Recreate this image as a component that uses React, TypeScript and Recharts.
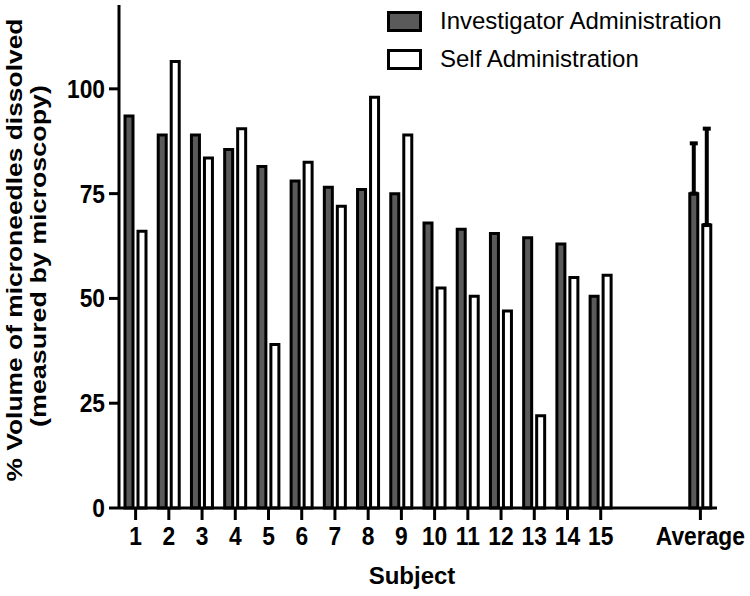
import { Bar, BarChart, ErrorBar, XAxis, YAxis } from 'recharts';

const subjects = ['1', '2', '3', '4', '5', '6', '7', '8', '9', '10', '11', '12', '13', '14', '15', '', '', 'Average'];
const investigator = [93.5, 89, 89, 85.5, 81.5, 78, 76.5, 76, 75, 68, 66.5, 65.5, 64.5, 63, 50.5, null, null, 75];
const self = [66, 106.5, 83.5, 90.5, 39, 82.5, 72, 98, 89, 52.5, 50.5, 47, 22, 55, 55.5, null, null, 67.5];
const investigatorErr = [null, null, null, null, null, null, null, null, null, null, null, null, null, null, null, null, null, [0, 12]];
const selfErr = [null, null, null, null, null, null, null, null, null, null, null, null, null, null, null, null, null, [0, 23]];
const yTicks = [0, 25, 50, 75, 100];

const data = subjects.map((name, i) => ({
  key: `c${i}`,
  name,
  investigator: investigator[i],
  self: self[i],
  investigatorErr: investigatorErr[i],
  selfErr: selfErr[i],
}));

const font = '"Liberation Sans", Arial, sans-serif';

// recharts hands the tick y below the axis (tickSize + tickMargin), so pull it back up
const XTick = (props: any) => {
  const { x, y, index } = props;
  const label = subjects[index];
  if (!label) return null;
  const axisY = y - 8;
  return (
    <g>
      <line x1={x} y1={axisY} x2={x} y2={axisY + 12} stroke="#000" strokeWidth={3} />
      <text
        transform={`translate(${x}, ${axisY + 37}) scale(0.95, 1.1)`}
        textAnchor="middle"
        fontFamily={font}
        fontWeight="bold"
        fontSize={24}
        fill="#000"
      >
        {label}
      </text>
    </g>
  );
};

const YTick = (props: any) => {
  const { x, y, payload } = props;
  return (
    <text
      transform={`translate(${x - 2}, ${y + 9}) scale(0.95, 1.1)`}
      textAnchor="end"
      fontFamily={font}
      fontWeight="bold"
      fontSize={24}
      fill="#000"
    >
      {payload.value}
    </text>
  );
};

const LegendBox = () => (
  <div style={{ position: 'absolute', top: 2, left: 387, fontFamily: font, fontSize: 24, color: '#000' }}>
    <div style={{ display: 'flex', alignItems: 'center', height: 38 }}>
      <div style={{ width: 29, height: 15, background: '#5a5a5a', border: '3px solid #000', marginRight: 18 }} />
      <span>Investigator Administration</span>
    </div>
    <div style={{ display: 'flex', alignItems: 'center', height: 38 }}>
      <div style={{ width: 29, height: 15, background: '#fff', border: '3px solid #000', marginRight: 18 }} />
      <span>Self Administration</span>
    </div>
  </div>
);

const YLabel = () => (
  <g>
    <text
      transform="translate(22, 250) rotate(-90) scale(1.1, 0.95)"
      textAnchor="middle"
      fontFamily={font}
      fontWeight="bold"
      fontSize={24}
      fill="#000"
    >
      % Volume of microneedles dissolved
    </text>
    <text
      transform="translate(46, 256) rotate(-90) scale(1.12, 0.95)"
      textAnchor="middle"
      fontFamily={font}
      fontWeight="bold"
      fontSize={24}
      fill="#000"
    >
      (measured by microscopy)
    </text>
  </g>
);

const XLabel = () => (
  <text x={412} y={584} textAnchor="middle" fontFamily={font} fontWeight="bold" fontSize={24} fill="#000">
    Subject
  </text>
);

export default function App() {
  return (
    <div style={{ position: 'absolute', left: 0, top: 0, width: 750, height: 596, background: '#fff' }}>
      <BarChart
        width={750}
        height={596}
        data={data}
        margin={{ top: 5, right: 33, bottom: 0, left: 59 }}
        barSize={8}
        barGap={5}
      >
        <XAxis
          dataKey="key"
          height={88}
          tickLine={false}
          axisLine={{ stroke: '#000', strokeWidth: 3 }}
          tick={<XTick />}
          interval={0}
          label={<XLabel />}
        />
        <YAxis
          width={60}
          domain={[0, 120]}
          ticks={yTicks}
          tickSize={10}
          axisLine={{ stroke: '#000', strokeWidth: 3 }}
          tickLine={{ stroke: '#000', strokeWidth: 3 }}
          tick={<YTick />}
          label={<YLabel />}
        />
        <Bar dataKey="investigator" fill="#5a5a5a" stroke="#000" strokeWidth={3} isAnimationActive={false}>
          <ErrorBar dataKey="investigatorErr" width={4} stroke="#000" strokeWidth={4} direction="y" />
        </Bar>
        <Bar dataKey="self" fill="#fff" stroke="#000" strokeWidth={3} isAnimationActive={false}>
          <ErrorBar dataKey="selfErr" width={4} stroke="#000" strokeWidth={4} direction="y" />
        </Bar>
      </BarChart>
      <LegendBox />
    </div>
  );
}
